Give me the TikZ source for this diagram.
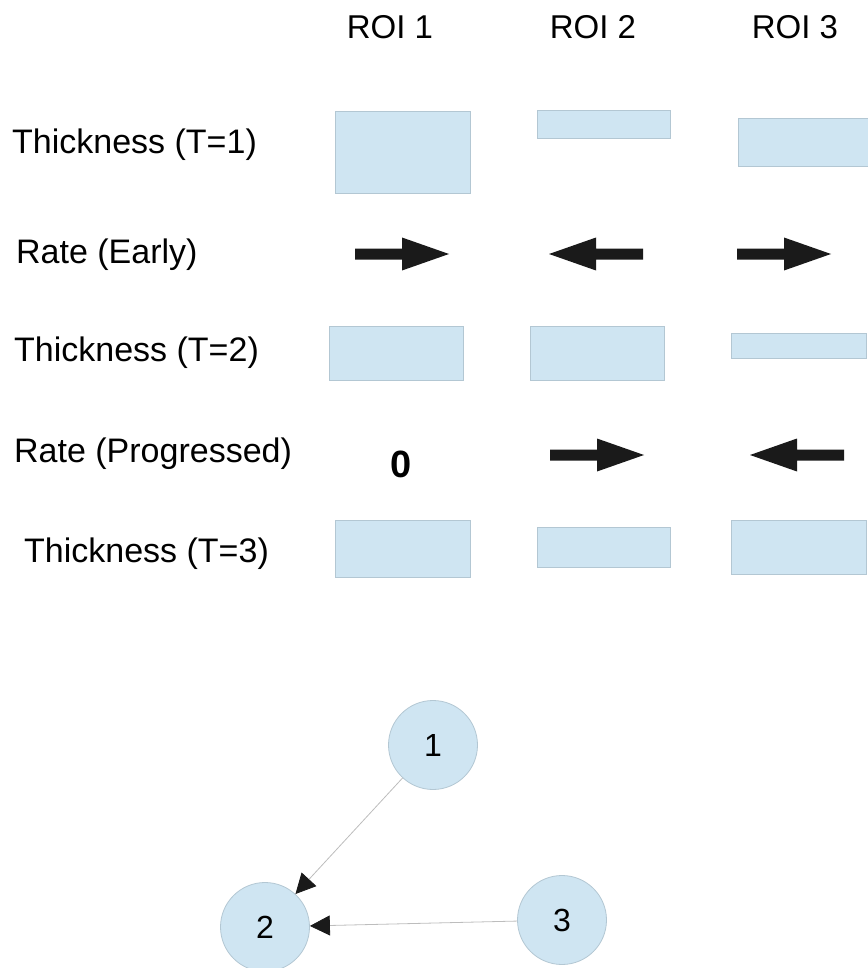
\documentclass[tikz,border=0pt]{standalone}
\usepackage{fontspec}
\setmainfont{Liberation Sans}
\usetikzlibrary{arrows.meta}
\definecolor{boxfill}{HTML}{CFE5F2}
\definecolor{boxline}{HTML}{B3C7D3}
\definecolor{edgegray}{HTML}{BDBDBD}
\definecolor{ink}{HTML}{1A1A1A}
\tikzset{
  lbl/.style={anchor=west, inner sep=0pt, font=\fontsize{34}{40}\selectfont},
  head/.style={inner sep=0pt, font=\fontsize{33}{40}\selectfont},
  bar/.style={draw=boxline, fill=boxfill, line width=1pt, inner sep=0pt},
  roi/.style={circle, draw=boxline, fill=boxfill, line width=0.8pt,
              minimum size=89pt, inner sep=0pt, font=\fontsize{32}{38}\selectfont},
  link/.style={draw=edgegray, line width=0.8pt,
               -{Triangle[length=20pt,width=20pt,fill=ink,color=ink]}},
  fatarrow/.pic={\fill[ink] (0,-5.5) -- (47,-5.5) -- (47,-16.5) -- (94,0)
                 -- (47,16.5) -- (47,5.5) -- (0,5.5) -- cycle;}
}
\begin{document}
\begin{tikzpicture}[x=1pt,y=-1pt]
\path[use as bounding box] (0,0) rectangle (867,968);

% column headings
\node[head] (h1) at (390,27) {ROI 1};
\node[head] (h2) at (593,27) {ROI 2};
\node[head] (h3) at (795,27) {ROI 3};

% row labels
\node[lbl] (r1) at (12,145) {Thickness (T=1)};
\node[lbl] (r2) at (16,255) {Rate (Early)};
\node[lbl] (r3) at (14,353) {Thickness (T=2)};
\node[lbl] (r4) at (14,454) {Rate (Progressed)};
\node[lbl] (r5) at (24,554) {Thickness (T=3)};

% thickness bars, T=1
\node[bar, minimum width=135pt, minimum height=82pt] (t1a) at (402.5,152.5) {};
\node[bar, minimum width=133pt, minimum height=28pt] (t1b) at (603.5,125) {};
\node[bar, minimum width=140pt, minimum height=48pt] (t1c) at (808,143) {};

% early rates
\pic at (355,254) {fatarrow};
\pic[xscale=-1] at (643,254) {fatarrow};
\pic at (737,254) {fatarrow};

% thickness bars, T=2
\node[bar, minimum width=134pt, minimum height=54pt] (t2a) at (396,353) {};
\node[bar, minimum width=134pt, minimum height=54pt] (t2b) at (597,353) {};
\node[bar, minimum width=135pt, minimum height=25pt] (t2c) at (798.5,345.5) {};

% progressed rates
\node[inner sep=0pt, font=\fontsize{38}{44}\selectfont\bfseries] (zero) at (401,464) {0};
\pic at (550,455) {fatarrow};
\pic[xscale=-1] at (844,455) {fatarrow};

% thickness bars, T=3
\node[bar, minimum width=135pt, minimum height=57pt] (t3a) at (402.5,549) {};
\node[bar, minimum width=133pt, minimum height=40pt] (t3b) at (603.5,547) {};
\node[bar, minimum width=135pt, minimum height=54pt] (t3c) at (798.5,547) {};

% region graph
\node[roi] (n1) at (433,745) {1};
\node[roi] (n2) at (265,927) {2};
\node[roi] (n3) at (562,920) {3};
\draw[link] (n1) -- (n2);
\draw[link] (n3) -- (n2);
\end{tikzpicture}
\end{document}
